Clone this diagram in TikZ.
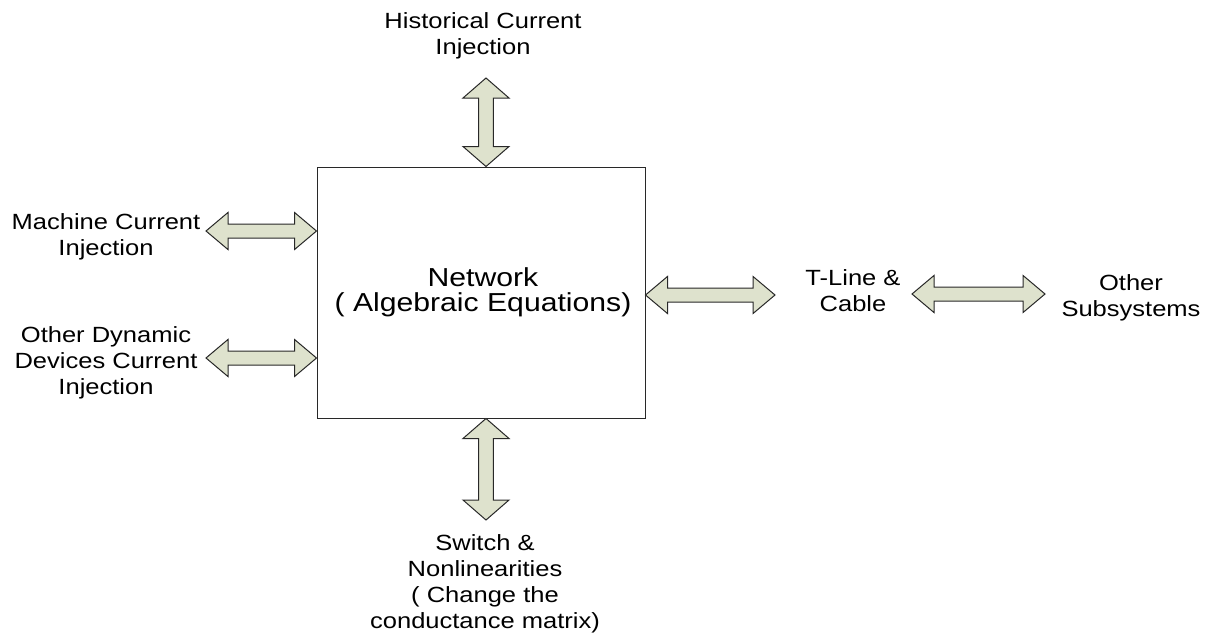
\documentclass[tikz,border=0pt]{standalone}
\usepackage{fontspec}
\setmainfont{Liberation Sans}[FakeStretch=1.16]
\usetikzlibrary{calc}
\definecolor{shaft}{RGB}{222,226,205}
\definecolor{edge}{RGB}{40,40,40}
\tikzset{
  % double-headed block arrow: #1 head length, #2 head half-width, #3 shaft half-width
  dbl/.style n args={3}{draw=edge, fill=shaft, line width=0.75pt, line join=miter,
    to path={
      (\tikztostart)
      -- ($(\tikztostart)!#1!(\tikztotarget)!#2!90:(\tikztotarget)$)
      -- ($(\tikztostart)!#1!(\tikztotarget)!#3!90:(\tikztotarget)$)
      -- ($(\tikztotarget)!#1!(\tikztostart)!#3!-90:(\tikztostart)$)
      -- ($(\tikztotarget)!#1!(\tikztostart)!#2!-90:(\tikztostart)$)
      -- (\tikztotarget)
      -- ($(\tikztotarget)!#1!(\tikztostart)!#2!90:(\tikztostart)$)
      -- ($(\tikztotarget)!#1!(\tikztostart)!#3!90:(\tikztostart)$)
      -- ($(\tikztostart)!#1!(\tikztotarget)!#3!-90:(\tikztotarget)$)
      -- ($(\tikztostart)!#1!(\tikztotarget)!#2!-90:(\tikztotarget)$)
      -- cycle}},
  hdbl/.style={dbl={16.5pt}{13.9pt}{5.25pt}},
  vdbl/.style={dbl={15pt}{17.25pt}{5.6pt}},
  lbl/.style={inner sep=0pt, align=center, anchor=north,
    font=\fontsize{16.5}{19.5}\selectfont},
  mainbox/.style={draw=edge, line width=0.75pt, inner sep=0pt,
    minimum width=246pt, minimum height=188.25pt},
}
\begin{document}
\begin{tikzpicture}[x=0.75pt, y=-0.75pt]
\useasboundingbox[fill=white] (0,0) rectangle (1219,635);

% central block
\node[mainbox] (net) at (481,292.5) {};
\node[lbl, font=\fontsize{19.5}{18.75}\selectfont] (nettext) at (483,267)
  {Network\\( Algebraic Equations)};

% surrounding labels
\node[lbl] (hist) at (483,12) {Historical Current\\Injection};
\node[lbl] (mach) at (106,213) {Machine Current\\Injection};
\node[lbl] (dyn) at (106,326) {Other Dynamic\\Devices Current\\Injection};
\node[lbl] (tline) at (853,269) {T-Line \&\\Cable};
\node[lbl] (other) at (1131,274) {Other\\Subsystems};
\node[lbl] (sw) at (485,534) {Switch \&\\Nonlinearities\\( Change the\\conductance matrix)};

% arrow end points
\coordinate (histend) at (486,78);
\coordinate (histbox) at (histend |- net.north);
\coordinate (machend) at (206,231);
\coordinate (machbox) at (machend -| net.west);
\coordinate (dynend) at (206,358);
\coordinate (dynbox) at (dynend -| net.west);
\coordinate (tlend) at (775,295);
\coordinate (tlbox) at (tlend -| net.east);
\coordinate (tlout) at (912,294);
\coordinate (otherin) at (1045,294);
\coordinate (swend) at (486,520);
\coordinate (swbox) at (swend |- net.south);

% block arrows
\draw[vdbl] (histend) to (histbox);
\draw[hdbl] (machend) to (machbox);
\draw[hdbl] (dynend) to (dynbox);
\draw[hdbl] (tlbox) to (tlend);
\draw[hdbl] (tlout) to (otherin);
\draw[vdbl] (swbox) to (swend);
\end{tikzpicture}
\end{document}
